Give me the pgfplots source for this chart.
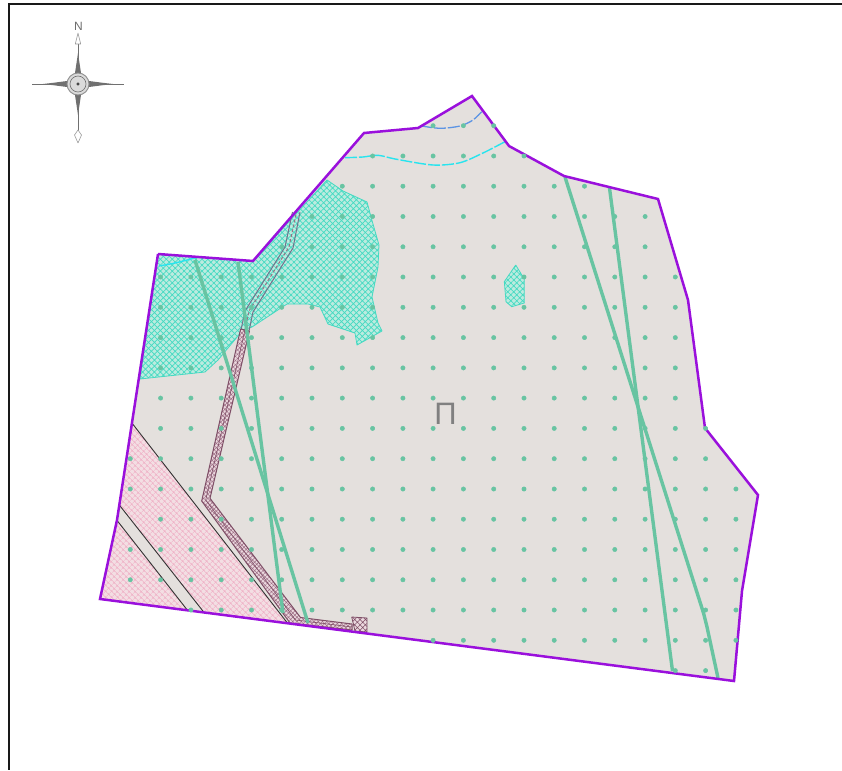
\documentclass[border=0pt]{standalone}
\usepackage{fontspec}
\setmainfont{Liberation Sans}
\usepackage{pgfplots}
\pgfplotsset{compat=1.18}
\usetikzlibrary{patterns.meta}

\definecolor{ground}{HTML}{E4E0DD}
\definecolor{boundary}{HTML}{9A10DC}
\definecolor{tealbase}{HTML}{BCEBDF}
\definecolor{tealhatch}{HTML}{45DAC2}
\definecolor{pinkbase}{HTML}{F3DEE3}
\definecolor{pinkhatch}{HTML}{EFB0C6}
\definecolor{greenline}{HTML}{68C4A2}
\definecolor{route}{HTML}{7E4E66}
\definecolor{routehatch}{HTML}{9E6F86}
\definecolor{routebase}{HTML}{EBD8DE}
\definecolor{waterline}{HTML}{28E4EE}
\definecolor{waterblue}{HTML}{5C94E4}
\definecolor{compass}{HTML}{707070}

\begin{document}
\begin{tikzpicture}[line join=round]
\begin{axis}[
    scale only axis, width=842pt, height=770pt,
    xmin=0, xmax=842, ymin=0, ymax=770,
    y dir=reverse, hide axis]

% plot area
\addplot[fill=ground, draw=none] coordinates {
  (158,254) (253,261) (364,133) (418,128) (472,96) (509,146) (564,176) (658,199)
  (688,300) (705,428) (758,495) (742,591) (734,681) (100,599) (117,520) (158,254)};

% zone fills below the dots
\addplot[fill=tealbase, draw=none] coordinates {
  (327,180) (343,191) (367,202) (371,217) (379,245) (378,267) (372,297) (378,323)
  (382,331) (357,345) (355,333) (328,324) (320,307) (308,304) (287,304) (252,327)
  (243,330) (218,360) (205,372) (140,379) (158,254) (253,261) (327,180)};
\addplot[fill=tealbase, draw=none] coordinates {
  (515.7,265) (524.3,279) (524.3,303) (511.7,306.7) (506,301.7) (504.3,281.7) (515.7,265)};
\addplot[fill=pinkbase, draw=none] coordinates {
  (131.7,422.7) (287,622.5) (203.3,611.5) (119.3,505) (131.7,422.7)};
\addplot[fill=pinkbase, draw=none] coordinates {
  (116.7,520) (186.7,609.3) (100,599) (116.7,520)};

% point grid
\addplot[only marks, color=greenline, mark=*, mark size=2.2pt, mark options={fill=greenline}] coordinates {
  (433.1,125.7) (463.4,125.7) (493.7,125.7)
  (372.6,156) (402.9,156) (433.1,156) (463.4,156) (493.7,156) (524,156)
  (342.3,186.2) (372.6,186.2) (402.9,186.2) (433.1,186.2) (463.4,186.2) (493.7,186.2) (524,186.2) (554.2,186.2) (584.5,186.2)
  (312,216.5) (342.3,216.5) (372.6,216.5) (402.9,216.5) (433.1,216.5) (463.4,216.5) (493.7,216.5) (524,216.5) (554.2,216.5) (584.5,216.5) (614.8,216.5) (645.1,216.5)
  (281.7,246.8) (312,246.8) (342.3,246.8) (372.6,246.8) (402.9,246.8) (433.1,246.8) (463.4,246.8) (493.7,246.8) (524,246.8) (554.2,246.8) (584.5,246.8) (614.8,246.8) (645.1,246.8)
  (160.6,277) (190.9,277) (221.2,277) (251.5,277) (281.7,277) (312,277) (342.3,277) (372.6,277) (402.9,277) (433.1,277) (463.4,277) (493.7,277) (524,277) (554.2,277) (584.5,277) (614.8,277) (645.1,277) (675.3,277)
  (160.6,307.3) (190.9,307.3) (221.2,307.3) (251.5,307.3) (281.7,307.3) (312,307.3) (342.3,307.3) (372.6,307.3) (402.9,307.3) (433.1,307.3) (463.4,307.3) (493.7,307.3) (524,307.3) (554.2,307.3) (584.5,307.3) (614.8,307.3) (645.1,307.3) (675.3,307.3)
  (160.6,337.6) (190.9,337.6) (221.2,337.6) (251.5,337.6) (281.7,337.6) (312,337.6) (342.3,337.6) (372.6,337.6) (402.9,337.6) (433.1,337.6) (463.4,337.6) (493.7,337.6) (524,337.6) (554.2,337.6) (584.5,337.6) (614.8,337.6) (645.1,337.6) (675.3,337.6)
  (160.6,367.9) (190.9,367.9) (221.2,367.9) (251.5,367.9) (281.7,367.9) (312,367.9) (342.3,367.9) (372.6,367.9) (402.9,367.9) (433.1,367.9) (463.4,367.9) (493.7,367.9) (524,367.9) (554.2,367.9) (584.5,367.9) (614.8,367.9) (645.1,367.9) (675.3,367.9)
  (160.6,398.1) (190.9,398.1) (221.2,398.1) (251.5,398.1) (281.7,398.1) (312,398.1) (342.3,398.1) (372.6,398.1) (402.9,398.1) (433.1,398.1) (463.4,398.1) (493.7,398.1) (524,398.1) (554.2,398.1) (584.5,398.1) (614.8,398.1) (645.1,398.1) (675.3,398.1)
  (160.6,428.4) (190.9,428.4) (221.2,428.4) (251.5,428.4) (281.7,428.4) (312,428.4) (342.3,428.4) (372.6,428.4) (402.9,428.4) (433.1,428.4) (463.4,428.4) (493.7,428.4) (524,428.4) (554.2,428.4) (584.5,428.4) (614.8,428.4) (645.1,428.4) (675.3,428.4) (705.6,428.4)
  (130.3,458.7) (160.6,458.7) (190.9,458.7) (221.2,458.7) (251.5,458.7) (281.7,458.7) (312,458.7) (342.3,458.7) (372.6,458.7) (402.9,458.7) (433.1,458.7) (463.4,458.7) (493.7,458.7) (524,458.7) (554.2,458.7) (584.5,458.7) (614.8,458.7) (645.1,458.7) (675.3,458.7) (705.6,458.7)
  (130.3,489) (160.6,489) (190.9,489) (221.2,489) (251.5,489) (281.7,489) (312,489) (342.3,489) (372.6,489) (402.9,489) (433.1,489) (463.4,489) (493.7,489) (524,489) (554.2,489) (584.5,489) (614.8,489) (645.1,489) (675.3,489) (705.6,489) (735.9,489)
  (160.6,519.2) (190.9,519.2) (221.2,519.2) (251.5,519.2) (281.7,519.2) (312,519.2) (342.3,519.2) (372.6,519.2) (402.9,519.2) (433.1,519.2) (463.4,519.2) (493.7,519.2) (524,519.2) (554.2,519.2) (584.5,519.2) (614.8,519.2) (645.1,519.2) (675.3,519.2) (705.6,519.2) (735.9,519.2)
  (130.3,549.5) (160.6,549.5) (190.9,549.5) (221.2,549.5) (251.5,549.5) (281.7,549.5) (312,549.5) (342.3,549.5) (372.6,549.5) (402.9,549.5) (433.1,549.5) (463.4,549.5) (493.7,549.5) (524,549.5) (554.2,549.5) (584.5,549.5) (614.8,549.5) (645.1,549.5) (675.3,549.5) (705.6,549.5) (735.9,549.5)
  (130.3,579.8) (160.6,579.8) (190.9,579.8) (221.2,579.8) (251.5,579.8) (281.7,579.8) (312,579.8) (342.3,579.8) (372.6,579.8) (402.9,579.8) (433.1,579.8) (463.4,579.8) (493.7,579.8) (524,579.8) (554.2,579.8) (584.5,579.8) (614.8,579.8) (645.1,579.8) (675.3,579.8) (705.6,579.8) (735.9,579.8)
  (190.9,610) (221.2,610) (251.5,610) (281.7,610) (312,610) (342.3,610) (372.6,610) (402.9,610) (433.1,610) (463.4,610) (493.7,610) (524,610) (554.2,610) (584.5,610) (614.8,610) (645.1,610) (675.3,610) (705.6,610) (735.9,610)
  (433.1,640.3) (463.4,640.3) (493.7,640.3) (524,640.3) (554.2,640.3) (584.5,640.3) (614.8,640.3) (645.1,640.3) (675.3,640.3) (705.6,640.3) (735.9,640.3)
  (675.3,670.6) (705.6,670.6)};

% hatching on top of the dots
\addplot[pattern={Hatch[angle=45,distance=4.2pt,line width=0.7pt]}, pattern color=tealhatch,
    draw=tealhatch, line width=0.8pt] coordinates {
  (327,180) (343,191) (367,202) (371,217) (379,245) (378,267) (372,297) (378,323)
  (382,331) (357,345) (355,333) (328,324) (320,307) (308,304) (287,304) (252,327)
  (243,330) (218,360) (205,372) (140,379) (158,254) (253,261) (327,180)};
\addplot[pattern={Hatch[angle=45,distance=4.2pt,line width=0.7pt]}, pattern color=tealhatch,
    draw=tealhatch, line width=0.8pt] coordinates {
  (515.7,265) (524.3,279) (524.3,303) (511.7,306.7) (506,301.7) (504.3,281.7) (515.7,265)};
\addplot[pattern={Hatch[angle=45,distance=4pt,line width=0.55pt]}, pattern color=pinkhatch, draw=none] coordinates {
  (131.7,422.7) (287,622.5) (203.3,611.5) (119.3,505) (131.7,422.7)};
\addplot[pattern={Hatch[angle=45,distance=4pt,line width=0.55pt]}, pattern color=pinkhatch, draw=none] coordinates {
  (116.7,520) (186.7,609.3) (100,599) (116.7,520)};

% black edges of the pink zone
\addplot[color=black!80, line width=0.9pt] coordinates {(131.7,422.7) (287,622.5)};
\addplot[color=black!80, line width=0.9pt] coordinates {(119.3,505) (203.3,611.5)};
\addplot[color=black!80, line width=0.9pt] coordinates {(116.7,520) (186.7,609.3)};

% route corridor
\addplot[color=gray!90!blue, line width=1pt] coordinates {(241,330) (245,311) (285,247) (292.5,212)};
\addplot[color=gray!90!blue, line width=1pt] coordinates {(249,331) (253,312) (293,248) (300,212)};
\addplot[color=route!80, line width=1pt, dash pattern=on 3pt off 2pt] coordinates {(245,330) (249,311) (289,247) (296.5,212)};
\addplot[fill=routebase, draw=none] coordinates {
  (249.4,331) (210,498.3) (300.5,617.5) (352,624) (352,630) (290,623) (201.7,501) (240.6,329)};
\addplot[pattern={Hatch[angle=45,distance=3pt,line width=0.5pt]}, pattern color=routehatch, draw=route, line width=1pt] coordinates {
  (249.4,331) (210,498.3) (300.5,617.5) (352,624) (352,630) (290,623) (201.7,501) (240.6,329) (249.4,331)};
\addplot[color=route, line width=0.6pt] coordinates {(245,330) (205.7,500) (295.5,620) (352,627)};
\addplot[fill=routebase, draw=none] coordinates {(351.7,617) (367,618) (367,632) (355,631) (351.7,617)};
\addplot[pattern={Hatch[angle=45,distance=3.8pt,line width=0.5pt]}, pattern color=route, draw=route, line width=0.8pt] coordinates {
  (351.7,617) (367,618) (367,632) (355,631) (351.7,617)};

% green corridors
\addplot[color=greenline, line width=3.4pt] coordinates {(195,260) (308,623)};
\addplot[color=greenline, line width=3.4pt] coordinates {(238,262) (283,613)};
\addplot[color=greenline, line width=3.4pt] coordinates {(565,177) (703.5,613) (707,627) (718,678)};
\addplot[color=greenline, line width=3.4pt] coordinates {(609.5,188) (672.5,671)};

% dashed water lines
\addplot[color=waterline, line width=1.4pt, smooth, dash pattern=on 12pt off 2pt] coordinates {
  (345,157.7) (363,157) (378,155.3) (396.7,159.3) (433,165) (460,162.7) (483,153) (505,141.7)};
\addplot[color=waterline, line width=1.4pt, smooth] coordinates {(159,266) (175,263) (195,258)};
\addplot[color=waterblue, line width=1.3pt, smooth, dash pattern=on 12pt off 2pt] coordinates {
  (420,125.7) (440,128.3) (460,126) (473,120) (481.7,111.7)};

% plot boundary
\addplot[color=boundary, line width=2.5pt, line join=miter] coordinates {
  (158,254) (253,261) (364,133) (418,128) (472,96) (509,146) (564,176) (658,199)
  (688,300) (705,428) (758,495) (742,591) (734,681) (100,599) (117,520) (158,254)};

% map frame
\addplot[color=black!90, line width=2pt, line join=miter] coordinates {(842,4) (9.3,4) (9.3,770)};

% compass
\addplot[color=compass, line width=0.6pt] coordinates {(32,84) (124,84)};
\addplot[color=compass, line width=0.6pt] coordinates {(78,43) (78,135)};
\addplot[fill=compass, draw=none] coordinates {(78,53) (81,73) (75,73) (78,53)};
\addplot[fill=compass, draw=none] coordinates {(78,115) (81,95) (75,95) (78,115)};
\addplot[fill=compass, draw=none] coordinates {(43,84) (54,82.7) (67,81) (67,87) (54,85.3) (43,84)};
\addplot[fill=compass, draw=none] coordinates {(113,84) (102,82.7) (89,81) (89,87) (102,85.3) (113,84)};
\addplot[color=compass!70, fill=white, line width=0.6pt] coordinates {(78,33) (80.7,44) (75.3,44) (78,33)};
\addplot[color=compass!70, fill=white, line width=0.6pt] coordinates {(78,143) (81.5,135) (78,130) (74.5,135) (78,143)};
\addplot[only marks, color=compass, mark=*, mark size=11pt, mark options={draw=compass!80, line width=0.9pt, fill=compass!25}] coordinates {(78,84)};
\addplot[only marks, color=compass, mark=o, mark size=8pt, mark options={draw=compass, line width=0.6pt}] coordinates {(78,84)};
\addplot[color=compass, line width=0.5pt] coordinates {(70,84) (86,84)};
\addplot[color=compass, line width=0.5pt] coordinates {(78,76) (78,92)};
\addplot[color=compass, line width=0.5pt] coordinates {(72.3,78.3) (83.7,89.7)};
\addplot[color=compass, line width=0.5pt] coordinates {(83.7,78.3) (72.3,89.7)};
\addplot[only marks, color=black!75, mark=*, mark size=1.4pt] coordinates {(78,84)};

\node[text=gray!85!black, font=\fontsize{12}{12}\selectfont] at (axis cs:78.5,26) {N};
\node[text=gray, font=\fontsize{31}{31}\selectfont] at (axis cs:445.5,414) {П};
\end{axis}
\pgfresetboundingbox
\path (current axis.south west) rectangle (current axis.north east);
\end{tikzpicture}
\end{document}
